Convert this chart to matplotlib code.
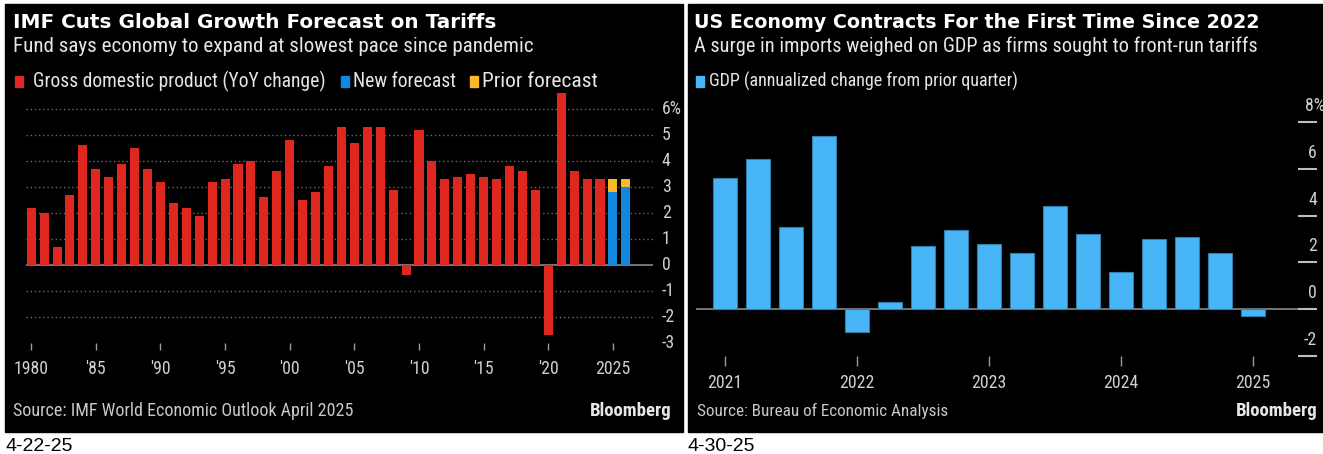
import matplotlib
matplotlib.use("Agg")
import matplotlib.pyplot as plt
from matplotlib import font_manager
from matplotlib.patches import Rectangle

# IMF world GDP growth, % YoY
imf_years = list(range(1980, 2025))
imf_gdp = [2.2, 2.0, 0.7, 2.7, 4.6, 3.7, 3.4, 3.9, 4.5, 3.7,
           3.2, 2.4, 2.2, 1.9, 3.2, 3.3, 3.9, 4.0, 2.6, 3.6,
           4.8, 2.5, 2.8, 3.8, 5.3, 4.7, 5.3, 5.3, 2.9, -0.4,
           5.2, 4.0, 3.3, 3.4, 3.5, 3.4, 3.3, 3.8, 3.6, 2.9,
           -2.7, 6.6, 3.6, 3.3, 3.3]
fcst_years = [2025, 2026]
fcst_new = [2.8, 3.0]
fcst_prior = [3.3, 3.3]
imf_xticks = [1980, 1985, 1990, 1995, 2000, 2005, 2010, 2015, 2020, 2025]
imf_xlabels = ["1980", "'85", "'90", "'95", "'00", "'05", "'10", "'15", "'20", "2025"]
imf_yticks = [6, 5, 4, 3, 2, 1, 0, -1, -2, -3]

# US real GDP, annualized q/q %, 2021Q1 - 2025Q1
us_quarters = list(range(17))
us_gdp = [5.6, 6.4, 3.5, 7.4, -1.0, 0.3, 2.7, 3.4, 2.8,
          2.4, 4.4, 3.2, 1.6, 3.0, 3.1, 2.4, -0.3]
us_xticks = [0, 4, 8, 12, 16]
us_xlabels = ["2021", "2022", "2023", "2024", "2025"]
us_yticks = [8, 6, 4, 2, 0, -2]

W, H = 1323, 454


def pick_narrow():
    # prefer a narrow face if one is around, else plain DejaVu
    fonts = font_manager.fontManager.ttflist
    for want in ("Liberation Sans Narrow", "Roboto Condensed", "Open Sans Condensed"):
        if any(f.name == want for f in fonts):
            return want, "normal"
    for f in fonts:
        if f.stretch in ("condensed", "semi-condensed") and f.weight in (400, "normal", "regular"):
            return f.name, f.stretch
    return "DejaVu Sans", "normal"


NARROW, STRETCH = pick_narrow()
BODY = dict(family=NARROW, stretch=STRETCH)
BOLD = dict(family="DejaVu Sans", weight="bold")
LOGO = dict(family=NARROW, stretch=STRETCH, weight="bold")

RED = "#e0271f"
BLUE_NEW = "#1188e0"
YELLOW = "#fcb82a"
SKY = "#48b6f6"
TXT = "#e6e6e6"
TICK = "#d0d0d0"
GRID = "#6a6a6a"

fig = plt.figure(figsize=(W / 100, H / 100), dpi=100)
fig.patch.set_facecolor("white")
renderer = fig.canvas.get_renderer()


def fx(x):
    return x / W


def fy(y):
    return 1 - y / H


def add_ax(x0, y0, x1, y1):
    ax = fig.add_axes([fx(x0), fy(y1), fx(x1 - x0), (y1 - y0) / H])
    ax.set_facecolor("none")
    for s in ax.spines.values():
        s.set_visible(False)
    return ax


def fit_text(x, y, s, width, **kw):
    # place text at pixel (x, baseline y) and size it to the given pixel width
    t = fig.text(fx(x), fy(y), s, fontsize=12, va="baseline", **kw)
    w = t.get_window_extent(renderer).width
    t.set_fontsize(12 * width / w)
    return t


def square(x, y, w, h, color):
    fig.patches.append(Rectangle((fx(x), fy(y + h)), w / W, h / H,
                                 transform=fig.transFigure, color=color))


def fitted_size(s, width, **kw):
    t = fig.text(0, 0, s, fontsize=12, **kw)
    w = t.get_window_extent(renderer).width
    t.remove()
    return 12 * width / w


# black panels behind everything
for x0, x1 in [(5, 683), (688, 1323)]:
    fig.patches.append(Rectangle((fx(x0), fy(432)), (x1 - x0) / W, 428 / H,
                                 transform=fig.transFigure, color="black", zorder=-5))

tick_fs = fitted_size("1980", 35, **BODY)

# ---------------- left: IMF ----------------
fit_text(13, 28, "IMF Cuts Global Growth Forecast on Tariffs", 480, color="white", **BOLD)
fit_text(13, 52, "Fund says economy to expand at slowest pace since pandemic", 520,
         color=TXT, **BODY)
square(15, 76, 8, 11, RED)
fit_text(33, 87, "Gross domestic product (YoY change)", 292, color=TXT, **BODY)
square(341, 76, 8, 11, BLUE_NEW)
fit_text(353, 87, "New forecast", 103, color=TXT, **BODY)
square(470, 76, 8, 11, YELLOW)
fit_text(482, 87, "Prior forecast", 116, color=TXT, **BODY)

ax1 = add_ax(26, 89.5, 653, 343)
ax1.set_xlim(1979.6, 2028.1)
ax1.set_ylim(-3, 6.75)
for v in imf_yticks[:-1]:
    if v == 0:
        ax1.axhline(0, color="#8a8a8a", lw=1.2, zorder=1)
    else:
        ax1.axhline(v, color=GRID, lw=1, ls=(0, (1, 2)), zorder=0)
ax1.bar(imf_years, imf_gdp, width=0.7, color=RED, zorder=2)
ax1.bar(fcst_years, fcst_prior, width=0.7, color=YELLOW, zorder=2)
ax1.bar(fcst_years, fcst_new, width=0.7, color=BLUE_NEW, zorder=3)
ax1.set_xticks(imf_xticks)
ax1.set_xticklabels(imf_xlabels, fontsize=tick_fs, color=TICK, **BODY)
ax1.tick_params(axis="x", length=5, width=1, color="#9a9a9a", pad=7)
ax1.set_yticks([])
for v in imf_yticks:
    lab = f"{v}%" if v == 6 else str(v)
    ax1.text(1 + 9 / 627, v, lab, transform=ax1.get_yaxis_transform(),
             fontsize=tick_fs, color=TICK, ha="left", va="center", **BODY)

fit_text(13, 416, "Source: IMF World Economic Outlook April 2025", 339,
         color="#c8c8c8", **BODY)
fit_text(590, 416, "Bloomberg", 82, color=TXT, **LOGO)
fig.text(fx(5), fy(451), "4-22-25", family="Liberation Sans", fontsize=14,
         color="black", va="baseline")

# ---------------- right: US GDP ----------------
fit_text(694, 28, "US Economy Contracts For the First Time Since 2022", 563,
         color="white", **BOLD)
fit_text(694, 52, "A surge in imports weighed on GDP as firms sought to front-run tariffs",
         563, color=TXT, **BODY)
square(696, 76, 8, 11, SKY)
fit_text(709, 87, "GDP (annualized change from prior quarter)", 309, color=TXT, **BODY)

ax2 = add_ax(696, 108, 1317, 355.8)
ax2.set_xlim(-0.88, 17.94)
ax2.set_ylim(-2, 8.6)
ax2.axhline(0, color="#8a8a8a", lw=1.2, zorder=1)
ax2.bar(us_quarters, us_gdp, width=0.7, color=SKY, edgecolor="#2f7fae",
        linewidth=0.8, zorder=2)
ax2.set_xticks(us_xticks)
ax2.set_xticklabels(us_xlabels, fontsize=tick_fs, color=TICK, **BODY)
ax2.tick_params(axis="x", length=7, width=1, color="#9a9a9a", pad=6)
ax2.yaxis.tick_right()
ax2.set_yticks(us_yticks)
ax2.set_yticklabels([])
ax2.tick_params(axis="y", direction="in", length=13.7, width=1.5, color="#bdbdbd")
for v in us_yticks:
    if v == 8:
        ax2.text(1 - 12 / 621, v + 0.68, "8%", transform=ax2.get_yaxis_transform(),
                 fontsize=tick_fs, color=TICK, ha="left", va="center", **BODY)
    else:
        ax2.text(1, v + 0.68, str(v), transform=ax2.get_yaxis_transform(),
                 fontsize=tick_fs, color=TICK, ha="right", va="center", **BODY)

fit_text(697, 416, "Source: Bureau of Economic Analysis", 251, color="#c8c8c8", **BODY)
fit_text(1236, 416, "Bloomberg", 82, color=TXT, **LOGO)
fig.text(fx(688), fy(451), "4-30-25", family="Liberation Sans", fontsize=14,
         color="black", va="baseline")

fig.savefig("out.png", dpi=100, facecolor="white")
